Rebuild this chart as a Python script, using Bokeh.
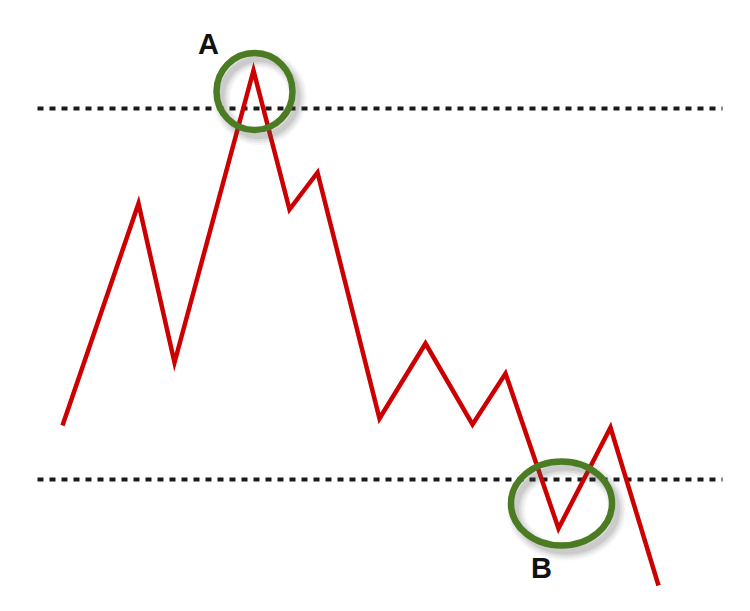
from bokeh.plotting import figure
from bokeh.models import Range1d
from bokeh.embed import file_html
from bokeh.resources import INLINE
from bokeh.core.properties import value

# price path (time, price)
time = [54, 130, 166, 245, 281, 309, 371, 417, 464, 497, 550, 602, 650]
price = [178, 400, 241, 533, 394, 431, 185, 260, 179, 230, 75, 176, 18]

# horizontal levels (resistance, support)
levels = [495, 124]
level_start = [29, 29]
level_end = [714, 714]

# highlighted points
mark_labels = ["A", "B"]
mark_x = [246, 553]
mark_y = [512, 100]
mark_w = [76, 101]
mark_h = [77, 84]
label_x = [200, 533]
label_y = [560, 36]

W, H = 734, 595
p = figure(width=W, height=H, output_backend="svg", toolbar_location=None,
           x_range=Range1d(-8, W - 8), y_range=Range1d(8, H + 8),
           x_axis_location=None, y_axis_location=None, min_border=0)
p.grid.visible = False
p.outline_line_color = None
p.background_fill_color = "white"
p.border_fill_color = "white"

# dotted levels
p.segment(x0=level_start, x1=level_end, y0=levels, y1=levels,
          line_color="#1a1a1a", line_width=4, line_dash="6 6")

# price line
p.line(time, price, line_color="#cc0000", line_width=4.5, line_join="miter")

# circle shadows (soft, offset down-right)
sx = [x + 5 for x in mark_x]
sy = [y - 6 for y in mark_y]
for lw, a in [(18, 0.05), (14, 0.07), (10, 0.09), (6, 0.12)]:
    p.ellipse(x=sx, y=sy, width=mark_w, height=mark_h, fill_color=None,
              line_color="#555555", line_alpha=a, line_width=lw)

# green circles
p.ellipse(x=mark_x, y=mark_y, width=mark_w, height=mark_h, fill_color=None,
          line_color="#4b7b22", line_width=6.5)

# labels
p.text(x=label_x, y=label_y, text=mark_labels, text_font=value("Liberation Sans"),
       text_font_style="bold", text_font_size="29px", text_color="#111111",
       text_align="center", text_baseline="middle")

open("out.html", "w").write(file_html(p, INLINE))
